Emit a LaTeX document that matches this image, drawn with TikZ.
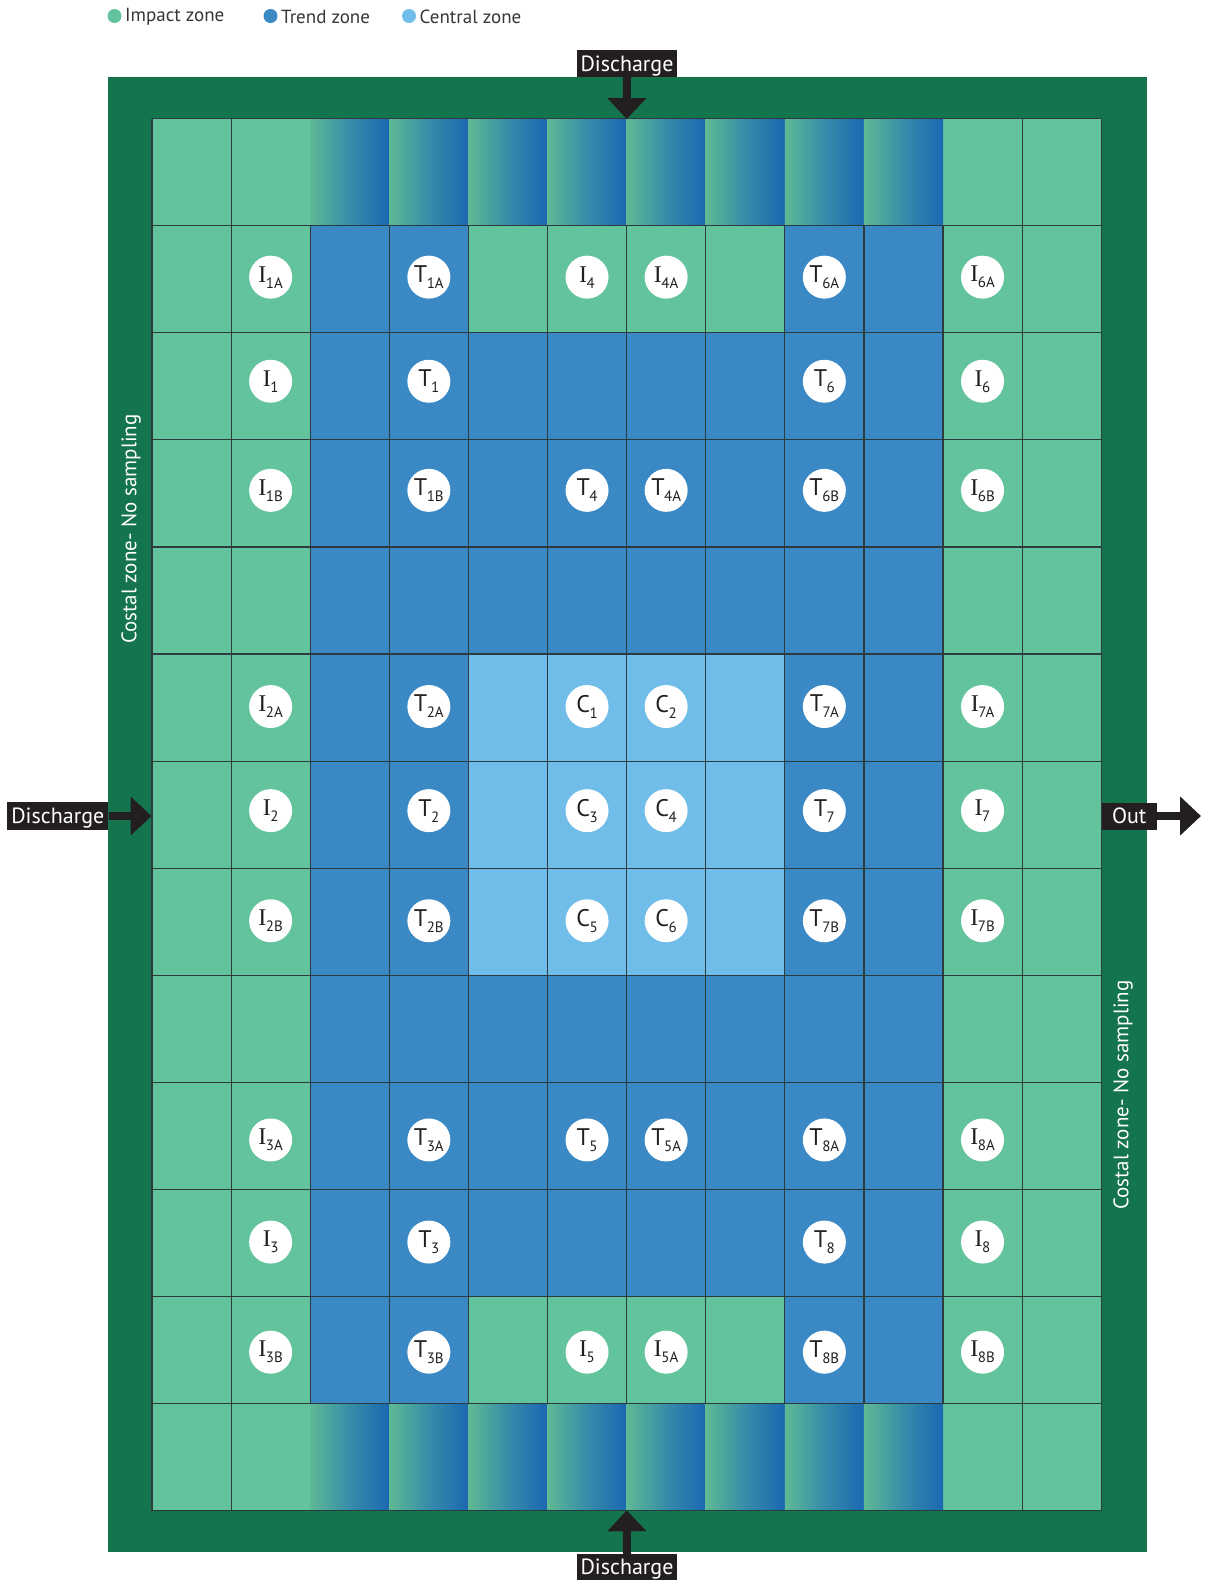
\documentclass[tikz,border=0pt]{standalone}
\usepackage{fontspec}
\setmainfont{PT Sans}
\newfontfamily\serifI{Liberation Serif}
\usetikzlibrary{arrows.meta}
\definecolor{frame}{RGB}{20,116,77}
\definecolor{impact}{RGB}{98,195,156}
\definecolor{trend}{RGB}{58,137,197}
\definecolor{central}{RGB}{112,189,233}
\definecolor{deepblue}{RGB}{27,103,178}
\definecolor{ink}{RGB}{35,31,32}
\definecolor{gridline}{RGB}{45,58,62}
\tikzset{
  tag/.style={fill=ink,text=white,inner sep=0pt,text depth=0pt,font=\fontsize{22}{22}\selectfont},
  flow/.style={ink,line width=8pt,-{Triangle[width=38pt,length=21pt]}},
  spot/.style={circle,fill=white,minimum size=43pt,inner sep=0pt,text=ink},
  legdot/.style={circle,inner sep=0pt,minimum size=14pt},
  legtxt/.style={anchor=west,inner sep=0pt,text=ink!90,font=\fontsize{19}{19}\selectfont},
  coast/.style={text=white,rotate=90,inner sep=0pt,font=\fontsize{21}{21}\selectfont},
  gridl/.style={gridline,line width=1.2pt}
}
\newcommand{\Iser}{{\serifI I}}
\newcommand{\spotlab}[2]{{\fontsize{24}{24}\selectfont #1}\kern-0.5pt\raisebox{-6pt}{\fontsize{15}{15}\selectfont #2}}
\begin{document}
\begin{tikzpicture}[x=1pt,y=-1pt]
\useasboundingbox (0,0) rectangle (1208,1580);
\pgfmathsetmacro{\Xo}{152}
\pgfmathsetmacro{\Yo}{118.5}
\pgfmathsetmacro{\cw}{79.1}
\pgfmathsetmacro{\rh}{107.1}
% legend
\node[legdot,fill=impact] (dimp) at (114.5,16) {};
\node[legtxt] (timp) at (125,17) {Impact zone};
\node[legdot,fill=trend] (dtre) at (270.5,16) {};
\node[legtxt] (ttre) at (281,17) {Trend zone};
\node[legdot,fill=central] (dcen) at (409,16) {};
\node[legtxt] (tcen) at (419.5,17) {Central zone};
% frame
\fill[frame] (108,77) rectangle (1147,1552);
% grid base
\fill[impact] (\Xo,\Yo) rectangle ({\Xo+12*\cw},{\Yo+13*\rh});
\fill[trend] ({\Xo+2*\cw},{\Yo+1*\rh}) rectangle ({\Xo+10*\cw},{\Yo+12*\rh});
\fill[impact] ({\Xo+4*\cw},{\Yo+1*\rh}) rectangle ({\Xo+8*\cw},{\Yo+2*\rh});
\fill[impact] ({\Xo+4*\cw},{\Yo+11*\rh}) rectangle ({\Xo+8*\cw},{\Yo+12*\rh});
\fill[central] ({\Xo+4*\cw},{\Yo+5*\rh}) rectangle ({\Xo+8*\cw},{\Yo+8*\rh});
% gradient cells
\foreach \c in {2,...,9}{
  \foreach \r in {0,12}{
    \shade[left color=impact!95!black,right color=deepblue,middle color=impact!40!deepblue]
      ({\Xo+\c*\cw},{\Yo+\r*\rh}) rectangle ({\Xo+(\c+1)*\cw},{\Yo+(\r+1)*\rh});
  }
}
% grid lines: horizontal
\foreach \r in {0,...,13}{
  \draw[gridl] (\Xo,{\Yo+\r*\rh}) -- ({\Xo+12*\cw},{\Yo+\r*\rh});
}
% vertical
\foreach \c in {0,1,11,12}{
  \draw[gridl] ({\Xo+\c*\cw},\Yo) -- ({\Xo+\c*\cw},{\Yo+13*\rh});
}
\foreach \c in {2,...,10}{
  \draw[gridl] ({\Xo+\c*\cw},{\Yo+\rh}) -- ({\Xo+\c*\cw},{\Yo+12*\rh});
}
% sample spots
\foreach \r/\c/\L/\s/\o in {
 1/1/\Iser/1A/-2, 1/3/T/1A/-2, 1/5/\Iser/4/-2, 1/6/\Iser/4A/-2, 1/8/T/6A/-2, 1/10/\Iser/6A/-2,
 2/1/\Iser/1/-5, 2/3/T/1/-5, 2/8/T/6/-5, 2/10/\Iser/6/-5,
 3/1/\Iser/1B/-3, 3/3/T/1B/-3, 3/5/T/4/-3, 3/6/T/4A/-3, 3/8/T/6B/-3, 3/10/\Iser/6B/-3,
 5/1/\Iser/2A/-1, 5/3/T/2A/-1, 5/5/C/1/-1, 5/6/C/2/-1, 5/8/T/7A/-1, 5/10/\Iser/7A/-1,
 6/1/\Iser/2/-4, 6/3/T/2/-4, 6/5/C/3/-4, 6/6/C/4/-4, 6/8/T/7/-4, 6/10/\Iser/7/-4,
 7/1/\Iser/2B/-1, 7/3/T/2B/-1, 7/5/C/5/-1, 7/6/C/6/-1, 7/8/T/7B/-1, 7/10/\Iser/7B/-1,
 9/1/\Iser/3A/4, 9/3/T/3A/4, 9/5/T/5/4, 9/6/T/5A/4, 9/8/T/8A/4, 9/10/\Iser/8A/4,
 10/1/\Iser/3/-1, 10/3/T/3/-1, 10/8/T/8/-1, 10/10/\Iser/8/-1,
 11/1/\Iser/3B/2, 11/3/T/3B/2, 11/5/\Iser/5/2, 11/6/\Iser/5A/2, 11/8/T/8B/2, 11/10/\Iser/8B/2}{
  \node[spot] (s-\r-\c) at ({\Xo+(\c+0.5)*\cw},{\Yo+(\r+0.5)*\rh+\o}) {\spotlab{\L}{\s}};
}
% coastal labels
\node[coast] (coastL) at (131,529) {Costal zone- No sampling};
\node[coast] (coastR) at (1123,1095) {Costal zone- No sampling};
% discharge / out
\node[tag,minimum width=100pt,minimum height=27pt] (dtop) at (627,63.5) {Discharge};
\coordinate (etop) at ({\Xo+6*\cw},119);
\draw[flow] (dtop.south) -- (etop);
\node[tag,minimum width=100pt,minimum height=26pt] (dbot) at (627,1567) {Discharge};
\coordinate (ebot) at ({\Xo+6*\cw},{\Yo+13*\rh-0.5});
\draw[flow] (dbot.north) -- (ebot);
\node[tag,minimum width=101pt,minimum height=28pt] (dleft) at (57.8,816) {Discharge};
\coordinate (eleft) at (151.5,816);
\draw[flow] (dleft.east) -- (eleft);
\node[tag,minimum width=55pt,minimum height=27pt] (out) at (1129.2,816) {Out};
\coordinate (eout) at (1201,816);
\draw[flow] (out.east) -- (eout);
\end{tikzpicture}
\end{document}
